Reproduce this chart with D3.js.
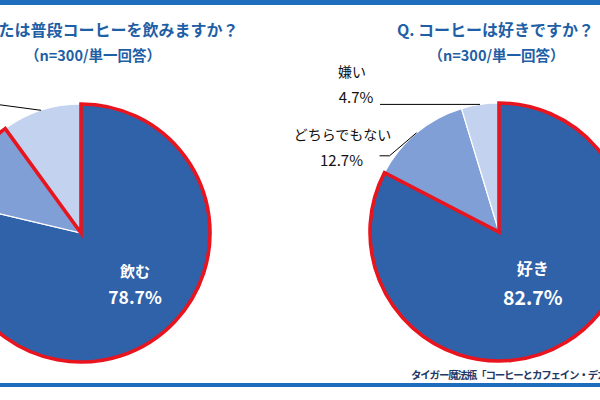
<!DOCTYPE html>
<html><head><meta charset="utf-8">
<script src="https://cdn.jsdelivr.net/npm/d3@7"></script>
<style>
html,body{margin:0;padding:0;background:#fff;overflow:hidden}
svg{display:block}
text{font-family:"Noto Sans CJK JP","Noto Sans",sans-serif}
</style></head><body>
<svg id="c" width="600" height="400"></svg>
<script>
// ---- data ----
const drinkCategories = ["飲む", "たまに飲む", "飲まない"];
const drinkValues = [78.7, 11.3, 10.0];
const likeCategories = ["好き", "どちらでもない", "嫌い"];
const likeValues = [82.7, 12.7, 4.7];
const drinkTitle = "Q. あなたは普段コーヒーを飲みますか？";
const likeTitle = "Q. コーヒーは好きですか？";
const subtitle = "（n=300/単一回答）";
const footer = "タイガー魔法瓶「コーヒーとカフェイン・デカフェに関する意識調査」";

const colors = ["#3062A9", "#7F9FD6", "#C3D2EE"];
const svg = d3.select("#c");

// frame bars
svg.append("rect").attr("x",0).attr("y",0).attr("width",600).attr("height",5).attr("fill","#1F6EBE");
svg.append("rect").attr("x",0).attr("y",383).attr("width",600).attr("height",4).attr("fill","#1F6EBE");

const R = 129;
const pie = d3.pie().sort(null).value(d => d);
const arc = d3.arc().innerRadius(0).outerRadius(R);

function drawPie(cx, cy, cats, vals, outlineCount, titleText, titleX, lab) {
  const g = svg.append("g").attr("transform", `translate(${cx},${cy})`);
  const arcs = pie(vals);
  g.selectAll("path.s").data(arcs).enter().append("path")
    .attr("class","s").attr("d", arc)
    .attr("fill", (d,i) => colors[i])
    .attr("stroke", "#fff").attr("stroke-width", 1.2);
  // red outline around first slices
  const outline = {startAngle: arcs[0].startAngle, endAngle: arcs[outlineCount-1].endAngle};
  g.append("path").attr("d", arc(outline))
    .attr("fill","none").attr("stroke","#E8141E").attr("stroke-width",3.6)
    .attr("stroke-linejoin","miter");
  // inner label
  const c = d3.arc().innerRadius(R*0.55).outerRadius(R*0.55).centroid(arcs[0]);
  const lx = c[0] + lab.dx, ly = c[1] + lab.dy;
  g.append("text").attr("x", lx).attr("y", ly).attr("text-anchor","middle")
    .attr("fill","#fff").attr("font-weight","700").attr("font-size",lab.s1).text(cats[0]);
  g.append("text").attr("x", lx).attr("y", ly+lab.gap).attr("text-anchor","middle")
    .attr("fill","#fff").attr("font-weight","700").attr("font-size",lab.s2)
    .attr("font-family","Noto Sans, sans-serif").text(vals[0].toFixed(1)+"%");
  // titles
  svg.append("text").attr("x", titleX).attr("y", 36).attr("text-anchor","middle")
    .attr("fill","#1F5FA6").attr("font-weight","700").attr("font-size",16).text(titleText);
  svg.append("text").attr("x", titleX+1).attr("y", 61).attr("text-anchor","middle")
    .attr("fill","#1F5FA6").attr("font-weight","700").attr("font-size",14.5).text(subtitle);
  return {g, arcs};
}

// left pie
const L = drawPie(81, 233, drinkCategories, drinkValues, 2, drinkTitle, 92,
  {dx: 10, dy: -12, gap: 27, s1: 15, s2: 17.5});
{
  const a = L.arcs[2];
  const m = (a.startAngle + a.endAngle) / 2;
  const px = Math.sin(m) * R, py = -Math.cos(m) * R;
  L.g.append("path").attr("d", d3.line()([[px,py],[px-60,py-8]]))
    .attr("stroke","#000").attr("stroke-width",1).attr("fill","none");
}

// right pie
const Rp = drawPie(499, 232, likeCategories, likeValues, 1, likeTitle, 495.5,
  {dx: -3, dy: -18, gap: 30, s1: 16, s2: 19.5});
{
  const lab = (i, dx1, dy1, dx2, tx, ty) => {
    const a = Rp.arcs[i];
    const m = (a.startAngle + a.endAngle) / 2;
    const px = Math.sin(m) * R, py = -Math.cos(m) * R;
    const pts = dx1 === null ? [[px,py],[px+dx2,py]] : [[px,py],[px+dx1,py+dy1],[px+dx1+dx2,py+dy1]];
    Rp.g.append("path").attr("d", d3.line()(pts))
      .attr("stroke","#000").attr("stroke-width",1).attr("fill","none");
    Rp.g.append("text").attr("x", tx).attr("y", ty).attr("text-anchor","middle")
      .attr("font-size",14).attr("fill","#111").text(likeCategories[i]);
    Rp.g.append("text").attr("x", tx+(i===2?4:-1)).attr("y", ty+26).attr("text-anchor","middle")
      .attr("font-size",15).attr("fill","#111").attr("font-family","Noto Sans, sans-serif")
      .text(likeValues[i].toFixed(1)+"%");
  };
  lab(2, null, 0, -100, 352-499, 77-232);
  lab(1, -27, 23, -10, 342.5-499, 140-232);
}

// footer
svg.append("text").attr("x", 411).attr("y", 379).attr("font-size",10.5).attr("font-weight","700")
  .attr("fill","#1F3864").attr("letter-spacing","-1.2").text(footer);
</script>
</body></html>
